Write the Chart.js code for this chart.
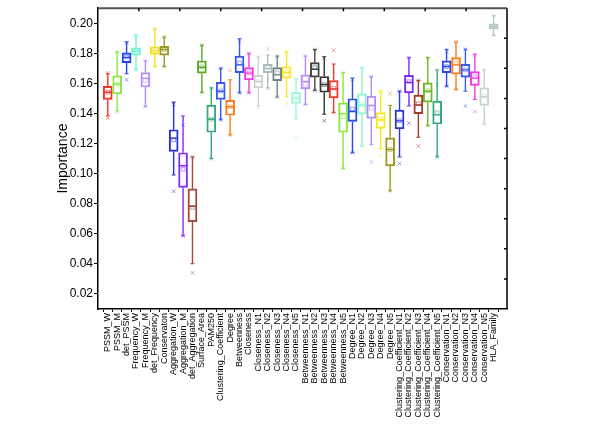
<!DOCTYPE html>
<html>
<head>
<meta charset="utf-8">
<script src="https://cdn.jsdelivr.net/npm/chart.js@4.4.1/dist/chart.umd.min.js"></script>
<style>
  html, body { margin: 0; padding: 0; background: #fff; }
  #wrap { width: 600px; height: 424px; }
</style>
</head>
<body>
<div id="wrap"><canvas id="grafico" width="600" height="424"></canvas></div>
<script>
var categorias = ['PSSM_W', 'PSSM_M', 'det_PSSM', 'Frequency_W', 'Frequency_M', 'det_Frequency',
    'Conservaton', 'Aggregation_W', 'Aggregation_M', 'det_Aggregation', 'Surface_Area', 'PAM250',
    'Clustering_Coefficient', 'Degree', 'Betweenness', 'Closeness', 'Closeness_N1', 'Closeness_N2',
    'Closeness_N3', 'Closeness_N4', 'Closeness_N5', 'Betweenness_N1', 'Betweenness_N2',
    'Betweenness_N3', 'Betweenness_N4', 'Betweenness_N5', 'Degree_N1', 'Degree_N2', 'Degree_N3',
    'Degree_N4', 'Degree_N5', 'Clustering_Coefficient_N1', 'Clustering_Coefficient_N2',
    'Clustering_Coefficient_N3', 'Clustering_Coefficient_N4', 'Clustering_Coefficient_N5',
    'Conservation_N1', 'Conservation_N2', 'Conservation_N3', 'Conservation_N4', 'Conservation_N5',
    'HLA_Family'];

var bigodeMin = [.1384, .1417, .1664, .1690, .1445, .1712, .1712, .0991, .0587, .0401, .1541, .1100,
    .1358, .1257, .1537, .1537, .1450, .1570, .1509, .1511, .1358, .1460, .1554, .1395, .1406, .1035,
    .1139, .1183, .1192, .1166, .0886, .1111, .1450, .1242, .1319, .1111, .1581, .1559, .1548, .1493,
    .1330, .1919];
var quartil1 = [.1493, .1530, .1738, .1788, .1576, .1793, .1788, .1148, .0908, .0681, .1668, .1275,
    .1493, .1388, .1672, .1624, .1570, .1672, .1618, .1635, .1467, .1563, .1642, .1541, .1504, .1275,
    .1347, .1395, .1367, .1301, .1052, .1297, .1537, .1399, .1476, .1330, .1672, .1661, .1642, .1587,
    .1454, .1963];
var mediana = [.1541, .1596, .1773, .1814, .1635, .1817, .1825, .1236, .1052, .0783, .1707, .1362,
    .1548, .1445, .1723, .1668, .1613, .1700, .1657, .1672, .1504, .1613, .1694, .1592, .1563, .1399,
    .1413, .1456, .1454, .1358, .1161, .1351, .1607, .1456, .1548, .1391, .1712, .1723, .1690, .1635,
    .1511, .1980];
var quartil3 = [.1581, .1650, .1803, .1836, .1672, .1843, .1847, .1292, .1139, .0899, .1750, .1456,
    .1607, .1487, .1782, .1705, .1653, .1727, .1705, .1712, .1541, .1657, .1738, .1646, .1618, .1471,
    .1498, .1530, .1515, .1406, .1238, .1423, .1653, .1522, .1603, .1482, .1750, .1771, .1727, .1679,
    .1570, .1996];
var bigodeMax = [.1664, .1810, .1876, .1919, .1750, .1963, .1908, .1476, .1384, .1111, .1854, .1570,
    .1701, .1624, .1897, .1800, .1777, .1788, .1782, .1810, .1629, .1782, .1825, .1777, .1729, .1672,
    .1635, .1705, .1646, .1548, .1454, .1548, .1771, .1620, .1771, .1690, .1827, .1876, .1827, .1795,
    .1690, .2050];
var medias = [.1541, .1596, .1775, .1814, .1620, .1817, .1825, .1225, .1030, .0775, .1710, .1362,
    .1550, .1445, .1735, .1670, .1615, .1705, .1670, .1675, .1505, .1595, .1705, .1592, .1570, .1378,
    .1430, .1460, .1435, .1360, .1161, .1351, .1612, .1465, .1552, .1405, .1712, .1735, .1690, .1645,
    .1515, .1980];
var extremoMin = [.1370, .1410, .1624, .1690, .1445, .1710, .1710, .0882, .0587, .0340, .1541, .1100,
    .1358, .1257, .1537, .1537, .1437, .1563, .1509, .1467, .1236, .1460, .1554, .1351, .1406, .1035,
    .1139, .1183, .1078, .1122, .0886, .1067, .1336, .1183, .1319, .1111, .1581, .1559, .1450, .1413,
    .1330, .1919];
var extremoMax = [.1670, .1810, .1870, .1920, .1750, .1965, .1910, .1460, .1323, .1111, .1854, .1570,
    .1701, .1686, .1880, .1800, .1777, .1830, .1782, .1810, .1629, .1782, .1825, .1770, .1820, .1672,
    .1625, .1705, .1646, .1548, .1533, .1548, .1771, .1620, .1771, .1592, .1810, .1876, .1827, .1785,
    .1690, .2050];
var cores = ['#f5332a', '#8be84a', '#1f43f0', '#6ff5cf', '#b48cf5', '#f8e02a', '#9a9a2a', '#2a2ad0',
    '#8a2af5', '#a5463a', '#5ca82a', '#33a87a', '#3858f0', '#ff7a1a', '#3355f5', '#f53ae0', '#c9d3d3',
    '#a9bcbc', '#6f8585', '#fae62a', '#9ef5d9', '#b48cf5', '#454545', '#333333', '#f5352a', '#86ea3a',
    '#2848f0', '#8ef5d2', '#b48cf5', '#f7ea1a', '#9a9a1a', '#2a38d8', '#7a2af5', '#a3382a', '#6cb82a',
    '#33a87a', '#2848ee', '#ff7a1a', '#3a58ee', '#f53ae0', '#c3d3d3', '#b3c9c3'];

var ticksY = [0.02, 0.04, 0.06, 0.08, 0.10, 0.12, 0.14, 0.16, 0.18, 0.20];
var ticksYDireita = [0.03, 0.05, 0.07, 0.09, 0.11, 0.13, 0.15, 0.17, 0.19];

function comAlfa(hex, a) {
    var r = parseInt(hex.substr(1, 2), 16), g = parseInt(hex.substr(3, 2), 16), b = parseInt(hex.substr(5, 2), 16);
    return 'rgba(' + r + ',' + g + ',' + b + ',' + a + ')';
}

// bigodes, mediana, media e extremos de cada caixa
var pluginBigodes = {
    id: 'bigodes',
    afterDatasetsDraw: function(chart) {
        var ctx = chart.ctx, sx = chart.scales.x, sy = chart.scales.y;
        ctx.save();
        for (var i = 0; i < categorias.length; i++) {
            var x = sx.getPixelForValue(i + 1);
            var cor = cores[i];
            var yMin = sy.getPixelForValue(bigodeMin[i]), yQ1 = sy.getPixelForValue(quartil1[i]);
            var yQ3 = sy.getPixelForValue(quartil3[i]), yMax = sy.getPixelForValue(bigodeMax[i]);
            var yMed = sy.getPixelForValue(mediana[i]), yMedia = sy.getPixelForValue(medias[i]);
            ctx.strokeStyle = cor;
            ctx.lineWidth = 1.4;
            ctx.beginPath();
            ctx.moveTo(x, yQ3); ctx.lineTo(x, yMax);
            ctx.moveTo(x, yQ1); ctx.lineTo(x, yMin);
            ctx.moveTo(x - 4.5, yMed); ctx.lineTo(x + 4.5, yMed);
            ctx.stroke();
            ctx.lineWidth = 1;
            ctx.beginPath();
            ctx.moveTo(x - 2, yMax); ctx.lineTo(x + 2, yMax);
            ctx.moveTo(x - 2, yMin); ctx.lineTo(x + 2, yMin);
            ctx.stroke();
            ctx.strokeStyle = comAlfa(cor, 0.5);
            ctx.strokeRect(x - 1.8, yMedia - 1.8, 3.6, 3.6);
            [extremoMin[i], extremoMax[i]].forEach(function(v) {
                var yy = sy.getPixelForValue(v);
                ctx.beginPath();
                ctx.moveTo(x - 1.8, yy - 1.8); ctx.lineTo(x + 1.8, yy + 1.8);
                ctx.moveTo(x - 1.8, yy + 1.8); ctx.lineTo(x + 1.8, yy - 1.8);
                ctx.stroke();
            });
        }
        ctx.restore();
    }
};

// eixos de cima e da direita
var pluginMoldura = {
    id: 'moldura',
    afterDraw: function(chart) {
        var ctx = chart.ctx, a = chart.chartArea, sy = chart.scales.y;
        ctx.save();
        ctx.strokeStyle = '#555';
        ctx.lineWidth = 2;
        ctx.beginPath();
        ctx.moveTo(a.left, a.top); ctx.lineTo(a.right, a.top);
        ctx.stroke();
        ctx.strokeStyle = '#000';
        ctx.lineWidth = 1.5;
        ctx.beginPath();
        ctx.moveTo(a.right, a.top); ctx.lineTo(a.right, a.bottom);
        for (var k = 1; k < 10; k++) {
            var tx = a.left + (a.right - a.left) * k / 10;
            ctx.moveTo(tx, a.top); ctx.lineTo(tx, a.top + 3);
        }
        ticksYDireita.forEach(function(v) {
            var ty = sy.getPixelForValue(v);
            ctx.moveTo(a.right, ty); ctx.lineTo(a.right - 3, ty);
        });
        ctx.stroke();
        ctx.restore();
    }
};

function MontaGrafico() {
    Chart.defaults.font.family = 'Arial, "Liberation Sans", sans-serif';
    Chart.defaults.color = '#000';
    var caixas = categorias.map(function(c, i) {
        return { x: i + 1, y: [quartil1[i], quartil3[i]] };
    });

    new Chart(document.getElementById('grafico'), {
        type: 'bar',
        data: {
            datasets: [{
                label: 'Importance',
                data: caixas,
                backgroundColor: 'rgba(0,0,0,0)',
                borderColor: cores,
                borderWidth: 1.3,
                borderSkipped: false,
                barThickness: 9
            }]
        },
        options: {
            responsive: false,
            animation: false,
            layout: { padding: { top: 5, right: 93, left: 0, bottom: 0 } },
            plugins: { legend: { display: false }, tooltip: { enabled: false } },
            scales: {
                x: {
                    type: 'linear',
                    min: 0.48,
                    max: 42.9,
                    afterBuildTicks: function(scale) {
                        scale.ticks = categorias.map(function(c, i) { return { value: i + 1 }; });
                    },
                    afterFit: function(scale) { scale.height = 115; },
                    grid: { drawOnChartArea: false, tickLength: 3, color: '#000' },
                    border: { color: '#000', width: 1.5 },
                    ticks: {
                        autoSkip: false,
                        minRotation: 90,
                        maxRotation: 90,
                        padding: 1,
                        font: { size: 9 },
                        callback: function(v) { return categorias[Math.round(v) - 1]; }
                    }
                },
                y: {
                    min: 0.01,
                    max: 0.21,
                    afterBuildTicks: function(scale) {
                        scale.ticks = ticksY.map(function(v) { return { value: v }; });
                    },
                    afterFit: function(scale) { scale.width = 98; },
                    grid: { drawOnChartArea: false, tickLength: 4, color: '#000' },
                    border: { color: '#000', width: 1.5 },
                    ticks: {
                        padding: 1,
                        font: { size: 12 },
                        callback: function(v) { return v.toFixed(2); }
                    },
                    title: {
                        display: true,
                        text: 'Importance',
                        font: { size: 14 },
                        padding: { top: 55, bottom: 0 }
                    }
                }
            }
        },
        plugins: [pluginBigodes, pluginMoldura]
    });
}

MontaGrafico();
</script>
</body>
</html>
